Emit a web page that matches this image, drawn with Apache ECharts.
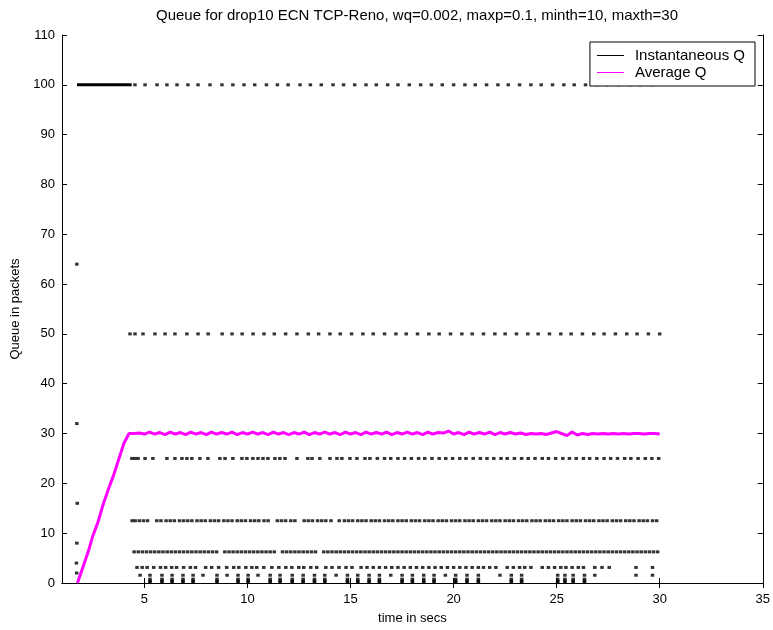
<!DOCTYPE html>
<html>
<head>
<meta charset="utf-8">
<script src="https://cdn.jsdelivr.net/npm/echarts@6/dist/echarts.min.js"></script>
<style>
  html, body { margin: 0; padding: 0; background: #ffffff; }
  #chart { width: 773px; height: 630px; }
</style>
</head>
<body>
<div id="chart"></div>
<script>
// Axis ticks
const xTicks = [5, 10, 15, 20, 25, 30, 35];
const yTicks = [0, 10, 20, 30, 40, 50, 60, 70, 80, 90, 100, 110];

// Start-up: slow-start burst samples just before the buffer fills
const startupTimes  = [1.72, 1.72, 1.74, 1.72, 1.70, 1.71];
const startupValues = [64, 32, 16, 8, 4, 2];

// Buffer full (100 packets) continuously during start-up
const fullBufferSpan = [1.73, 4.38];

// Instantaneous queue: sample times at each occupancy level (packets)
const q100Times = [4.54, 5.03, 5.61, 6.09, 6.58, 7.11, 7.60, 8.18, 8.76, 9.29, 9.83, 10.35, 10.92, 11.45,
  11.97, 12.55, 13.05, 13.58, 14.15, 14.66, 15.20, 15.75, 16.25, 16.80, 17.30, 17.85, 18.40, 18.92,
  19.45, 20.00, 20.55, 21.05, 21.60, 22.15, 22.65, 23.20, 23.75, 24.25, 24.80, 25.35, 25.85, 26.40,
  26.95, 27.45, 28.00, 28.55, 29.05, 29.60];
const q50Times = [4.30, 4.54, 4.93, 5.51, 6.00, 6.48, 7.06, 7.60, 8.09, 8.77, 9.25, 9.74, 10.27, 10.80,
  11.30, 11.85, 12.40, 12.95, 13.45, 14.00, 14.50, 15.05, 15.60, 16.10, 16.65, 17.20, 17.70, 18.25,
  18.80, 19.30, 19.85, 20.40, 20.90, 21.45, 22.00, 22.50, 23.05, 23.60, 24.10, 24.65, 25.20, 25.70,
  26.25, 26.80, 27.30, 27.85, 28.40, 28.90, 29.45, 30.00];
const q25Times = [4.39, 4.54, 4.69, 5.03, 5.41, 6.09, 6.48, 6.82, 7.06, 7.30, 7.69, 8.08, 8.66, 8.91,
  9.29, 9.73, 9.97, 10.26, 10.51, 10.75, 10.99, 11.33, 11.57, 11.82, 12.40, 12.93, 13.13, 13.51, 14.00,
  14.34, 14.58, 14.97, 15.31, 15.70, 15.94, 16.30, 16.65, 16.95, 17.30, 17.62, 17.95, 18.30, 18.60,
  18.95, 19.30, 19.62, 19.95, 20.30, 20.60, 20.95, 21.30, 21.62, 21.95, 22.30, 22.60, 22.95, 23.30,
  23.62, 23.95, 24.30, 24.60, 24.95, 25.30, 25.62, 25.95, 26.30, 26.60, 26.95, 27.30, 27.62, 27.95,
  28.30, 28.60, 28.95, 29.30, 29.62, 29.95];
const q12Times = [4.40, 4.55, 4.75, 4.95, 5.15, 5.60, 5.80, 6.05, 6.25, 6.45, 6.70, 6.90, 7.10,
  7.30, 7.55, 7.75, 7.95, 8.20, 8.40, 8.60, 8.85, 9.05, 9.25, 9.50, 9.70, 9.90, 10.15, 10.35, 10.55,
  10.80, 11.00, 11.45, 11.65, 11.85, 12.10, 12.30, 12.75, 12.95, 13.15, 13.40, 13.60,
  13.80, 14.05, 14.45, 14.70, 14.90, 15.10, 15.35, 15.55, 15.75, 16.00, 16.20, 16.40, 16.65,
  16.85, 17.05, 17.30, 17.50, 17.70, 17.95, 18.15, 18.35, 18.60, 18.80, 19.00, 19.25, 19.45, 19.65,
  19.90, 20.10, 20.30, 20.55, 20.75, 20.95, 21.20, 21.40, 21.60, 21.85, 22.05, 22.25, 22.50, 22.70,
  22.90, 23.15, 23.35, 23.55, 23.80, 24.00, 24.20, 24.45, 24.65, 24.85, 25.10, 25.30, 25.50, 25.75,
  25.95, 26.15, 26.40, 26.60, 26.80, 27.05, 27.25, 27.45, 27.70, 27.90, 28.10, 28.35, 28.55, 28.75,
  29.00, 29.20, 29.40, 29.65, 29.85];
const q6Times = [4.50, 4.70, 4.90, 5.10, 5.30, 5.50, 5.70, 5.90, 6.10, 6.30, 6.50, 6.70, 6.90, 7.10,
  7.30, 7.50, 7.70, 7.90, 8.10, 8.30, 8.50, 8.90, 9.10, 9.30, 9.50, 9.70, 9.90, 10.10, 10.30,
  10.50, 10.70, 10.90, 11.10, 11.30, 11.70, 11.90, 12.10, 12.30, 12.50, 12.70, 12.90, 13.10,
  13.30, 13.70, 13.90, 14.10, 14.30, 14.50, 14.70, 14.90, 15.10, 15.30, 15.50, 15.70, 15.90,
  16.10, 16.30, 16.50, 16.70, 16.90, 17.10, 17.30, 17.50, 17.70, 17.90, 18.10, 18.30, 18.50, 18.70,
  18.90, 19.10, 19.30, 19.50, 19.70, 19.90, 20.10, 20.30, 20.50, 20.70, 20.90, 21.10, 21.30, 21.50,
  21.70, 21.90, 22.10, 22.30, 22.50, 22.70, 22.90, 23.10, 23.30, 23.50, 23.70, 23.90, 24.10, 24.30,
  24.50, 24.70, 24.90, 25.10, 25.30, 25.50, 25.70, 25.90, 26.10, 26.30, 26.50, 26.70, 26.90, 27.10,
  27.30, 27.50, 27.70, 27.90, 28.10, 28.30, 28.50, 28.70, 28.90, 29.10, 29.30, 29.50, 29.70, 29.90];
const q3Times = [4.64, 4.89, 5.13, 5.45, 5.78, 6.03, 6.32, 6.56, 6.90, 7.23, 7.48, 7.97, 8.26, 8.60,
  8.99, 9.33, 9.58, 9.92, 10.21, 10.45, 10.79, 11.18, 11.52, 11.86, 12.15, 12.49, 12.73, 13.07, 13.36,
  13.80, 14.10, 14.44, 14.78, 15.07, 15.51, 15.80, 16.10, 16.40, 16.70, 17.00, 17.30, 17.60, 17.90,
  18.20, 18.50, 18.80, 19.10, 19.40, 19.70, 20.00, 20.30, 20.60, 20.90,
  21.20, 21.45, 21.75, 22.05, 22.60, 22.90, 23.20, 23.45, 23.75, 24.30, 24.60, 24.90, 25.20, 25.45,
  25.75, 26.05, 26.30, 26.85, 27.20, 27.55, 28.85, 29.65];
// Deep drains: the queue halves down towards empty at these times
const drainTimes = [5.27, 5.85, 6.34, 6.87, 7.36, 8.52, 9.54, 10.03, 11.10, 11.58, 12.17, 12.70, 13.25,
  13.75, 14.85, 15.35, 15.90, 16.40, 17.50, 18.00, 18.55, 19.05, 20.10, 20.65, 21.20, 22.80, 23.30,
  25.05, 25.40, 25.80, 26.35];
const drainLevels = [1.5625, 0.78125, 0.390625, 0.1953];
// Single low samples at 1.56 packets
const q1Times = [4.79, 7.84, 9.01, 10.51, 14.30, 16.95, 19.60, 22.25, 26.85, 28.85, 29.65];

// RED average queue, sampled every 0.25 s from t = 1.75 s
const avgStart = 1.75;
const avgStep = 0.25;
const avgValues = [
  0.0, 3.0, 6.0, 9.5, 12.3, 15.8, 18.8, 21.6, 24.8, 28.0, 30.0,
  30.0, 30.1, 29.9, 30.3, 29.9, 30.2, 29.8, 30.3, 29.9, 30.2,
  29.8, 30.3, 29.9, 30.2, 29.8, 30.3, 29.9, 30.2, 29.9, 30.3,
  29.8, 30.2, 29.9, 30.3, 29.9, 30.2, 29.8, 30.3, 29.9, 30.2,
  29.8, 30.2, 29.9, 30.3, 29.8, 30.2, 29.9, 30.3, 29.9, 30.2,
  29.8, 30.3, 29.9, 30.2, 29.8, 30.3, 29.9, 30.2, 29.9, 30.3,
  29.8, 30.2, 29.9, 30.3, 29.9, 30.2, 29.8, 30.3, 29.9, 30.2,
  30.1, 30.5, 29.9, 30.2, 29.8, 30.3, 29.9, 30.2, 29.9, 30.3,
  29.8, 30.2, 29.9, 30.2, 29.9, 30.1, 29.8, 30.0, 29.9, 30.0,
  29.8, 30.1, 30.4, 30.0, 29.6, 30.3, 29.7, 30.0, 29.8, 30.0,
  29.9, 30.0, 29.9, 30.0, 29.9, 30.0, 29.9, 30.0, 30.0, 29.9,
  30.0, 30.0, 29.9
];

// ---- build series data ----
const instPoints = [];
startupTimes.forEach((t, i) => instPoints.push([t, startupValues[i]]));
const levelRows = [[q100Times, 100], [q50Times, 50], [q25Times, 25], [q12Times, 12.5],
  [q6Times, 6.25], [q3Times, 3.125], [q1Times, 1.5625]];
levelRows.forEach(([times, level]) => times.forEach(t => instPoints.push([t, level])));
drainTimes.forEach(t => drainLevels.forEach(v => instPoints.push([t, v])));

const avgPoints = avgValues.map((v, i) => [avgStart + i * avgStep, v]);

const FONT = '"Liberation Sans", Arial, Helvetica, sans-serif';
const chart = echarts.init(document.getElementById('chart'));

const axisCommon = {
  axisLine: { show: true, lineStyle: { color: '#000', width: 1 } },
  splitLine: { show: false }
};

chart.setOption({
  animation: false,
  backgroundColor: '#ffffff',
  title: {
    text: 'Queue for drop10 ECN TCP-Reno, wq=0.002, maxp=0.1, minth=10, maxth=30',
    left: 412, top: 3, textAlign: 'center',
    textStyle: { fontFamily: FONT, fontSize: 15, fontWeight: 'normal', color: '#000' }
  },
  legend: {
    data: [
      { name: 'Instantaneous Q', icon: 'rect', itemStyle: { color: '#000' } },
      { name: 'Average Q', icon: 'rect', itemStyle: { color: '#ff00ff' } }
    ],
    orient: 'vertical',
    right: 18, top: 42,
    itemWidth: 27, itemHeight: 1, itemGap: 2,
    padding: [6, 10, 6, 7],
    backgroundColor: '#fff', borderColor: '#000', borderWidth: 1, borderRadius: 0,
    textStyle: { fontFamily: FONT, fontSize: 15, color: '#000', lineHeight: 15, padding: [0, 0, 0, 6] },
    selectedMode: false, z: 10
  },
  grid: { left: 62, right: 10, top: 35, bottom: 41, containLabel: false },
  xAxis: [
    Object.assign({}, axisCommon, {
      type: 'value', min: 1, max: 35, position: 'bottom',
      axisTick: { show: true, inside: true, length: 5, customValues: xTicks, lineStyle: { color: '#000' } },
      axisLabel: { customValues: xTicks, color: '#000', fontFamily: FONT, fontSize: 13, margin: 10 },
      name: 'time in secs', nameLocation: 'middle', nameGap: 29,
      nameTextStyle: { fontFamily: FONT, fontSize: 13, color: '#000' }
    }),
    Object.assign({}, axisCommon, {
      type: 'value', min: 1, max: 35, position: 'top',
      axisTick: { show: true, inside: true, length: 5, customValues: xTicks, lineStyle: { color: '#000' } },
      axisLabel: { show: false }
    })
  ],
  yAxis: [
    Object.assign({}, axisCommon, {
      type: 'value', min: 0, max: 110, interval: 10, position: 'left',
      axisTick: { show: true, inside: true, length: 5, customValues: yTicks, lineStyle: { color: '#000' } },
      axisLabel: { color: '#000', fontFamily: FONT, fontSize: 13, margin: 7 },
      name: 'Queue in packets', nameLocation: 'middle', nameGap: 35,
      nameTextStyle: { fontFamily: FONT, fontSize: 13, color: '#000' }
    }),
    Object.assign({}, axisCommon, {
      type: 'value', min: 0, max: 110, interval: 10, position: 'right',
      axisTick: { show: true, inside: true, length: 5, customValues: yTicks, lineStyle: { color: '#000' } },
      axisLabel: { show: false }
    })
  ],
  series: [
    {
      name: 'Instantaneous Q', type: 'line', data: [[fullBufferSpan[0], 100], [fullBufferSpan[1], 100]],
      showSymbol: false, symbol: 'none', lineStyle: { color: '#000', width: 3 }, itemStyle: { color: '#000' },
      silent: true, z: 2
    },
    {
      name: 'Instantaneous Q', type: 'scatter', data: instPoints,
      symbol: 'rect', symbolSize: [3.5, 3], itemStyle: { color: '#000' }, silent: true, z: 2
    },
    {
      name: 'Average Q', type: 'line', data: avgPoints,
      showSymbol: false, symbol: 'none', lineStyle: { color: '#ff00ff', width: 3 },
      itemStyle: { color: '#ff00ff' }, silent: true, z: 3
    }
  ]
});
</script>
</body>
</html>
